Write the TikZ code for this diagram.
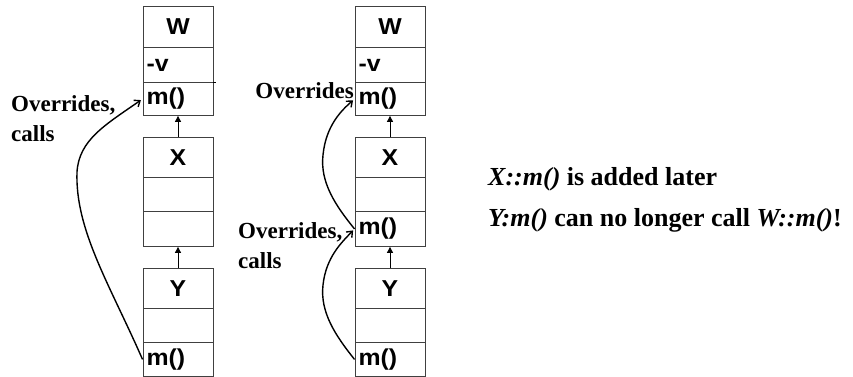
\documentclass[tikz,border=0pt]{standalone}
\usepackage{fontspec}
\setmainfont{Liberation Serif}
\setsansfont{Liberation Sans}
\usetikzlibrary{arrows.meta}
\newcommand\bxt[1]{\scalebox{1.08}[1.0]{#1}}
\begin{document}
\begin{tikzpicture}[x=1pt,y=-1pt,
  row/.style={draw=black!75, line width=0.9pt, minimum width=70pt, inner sep=0pt, anchor=north,
     font=\sffamily\bfseries\fontsize{23}{26}\selectfont},
  lrow/.style={row, text width=63pt, align=left},
  crow/.style={row, text width=70pt, align=center},
  inh/.style={draw=black, line width=0.9pt, -{Triangle[length=6pt,width=6pt]}},
  call/.style={draw=black, line width=1.4pt, -{Straight Barb[length=5pt,width=8pt]}, shorten >=2pt},
  lbl/.style={font=\bfseries\fontsize{23}{30}\selectfont, inner sep=0pt},
  note/.style={font=\bfseries\fontsize{26}{30}\selectfont, inner sep=0pt, anchor=base west}]
\useasboundingbox (0,0) rectangle (853,377);
% ---------- left column ----------
\node[crow, minimum height=41pt] (lw)  at (178,6)   {\bxt{W}};
\node[lrow, minimum height=35pt] (lwv) at (178,47)  {\bxt{-v}};
\node[lrow, minimum height=33pt] (lwm) at (178,82)  {\bxt{m()}};
\node[crow, minimum height=40pt] (lx)  at (178,137) {\bxt{X}};
\node[lrow, minimum height=34pt] (lx2) at (178,177) {};
\node[lrow, minimum height=35pt] (lx3) at (178,211) {};
\node[crow, minimum height=40pt] (ly)  at (178,268) {\bxt{Y}};
\node[lrow, minimum height=34pt] (ly2) at (178,308) {};
\node[lrow, minimum height=34pt] (lym) at (178,342) {\bxt{m()}};
\draw[draw=black, line width=0.9pt] (lwv.south east) -- ++(3,0);
\draw[inh] (lx.north) -- (lwm.south);
\draw[inh] (ly.north) -- (lx3.south);
\draw[call] (lym.west) .. controls (110,285) and (75,230) .. (77,172)
   .. controls (79,140) and (105,125) .. (lwm.west);
\node[lbl, anchor=north west, align=left] (llbl) at (11,95) {Overrides,\\calls};
% ---------- middle column ----------
\node[crow, minimum height=41pt] (mw)  at (390,6)   {\bxt{W}};
\node[lrow, minimum height=35pt] (mwv) at (390,47)  {\bxt{-v}};
\node[lrow, minimum height=33pt] (mwm) at (390,82)  {\bxt{m()}};
\node[crow, minimum height=40pt] (mx)  at (390,137) {\bxt{X}};
\node[lrow, minimum height=34pt] (mx2) at (390,177) {};
\node[lrow, minimum height=35pt] (mxm) at (390,211) {\bxt{m()}};
\node[crow, minimum height=40pt] (my)  at (390,268) {\bxt{Y}};
\node[lrow, minimum height=34pt] (my2) at (390,308) {};
\node[lrow, minimum height=34pt] (mym) at (390,342) {\bxt{m()}};
\draw[inh] (mx.north) -- (mwm.south);
\draw[inh] (my.north) -- (mxm.south);
\draw[call] (mxm.west) .. controls (335,205) and (320,182) .. (323,155)
   .. controls (326,125) and (342,110) .. (mwm.west);
\draw[call] (mym.west) .. controls (335,335) and (320,312) .. (323,285)
   .. controls (326,257) and (342,242) .. (mxm.west);
\node[lbl, anchor=base east] (mlbl1) at (354,99) {Overrides};
\node[lbl, anchor=north west, align=left] (mlbl2) at (238,222) {Overrides,\\calls};
% ---------- notes ----------
\node[note] (n1) at (488,185) {\textit{X::m()} is added later};
\node[note] (n2) at (488,226) {\textit{Y:m()} can no longer call \textit{W::m()}!};
\end{tikzpicture}
\end{document}
